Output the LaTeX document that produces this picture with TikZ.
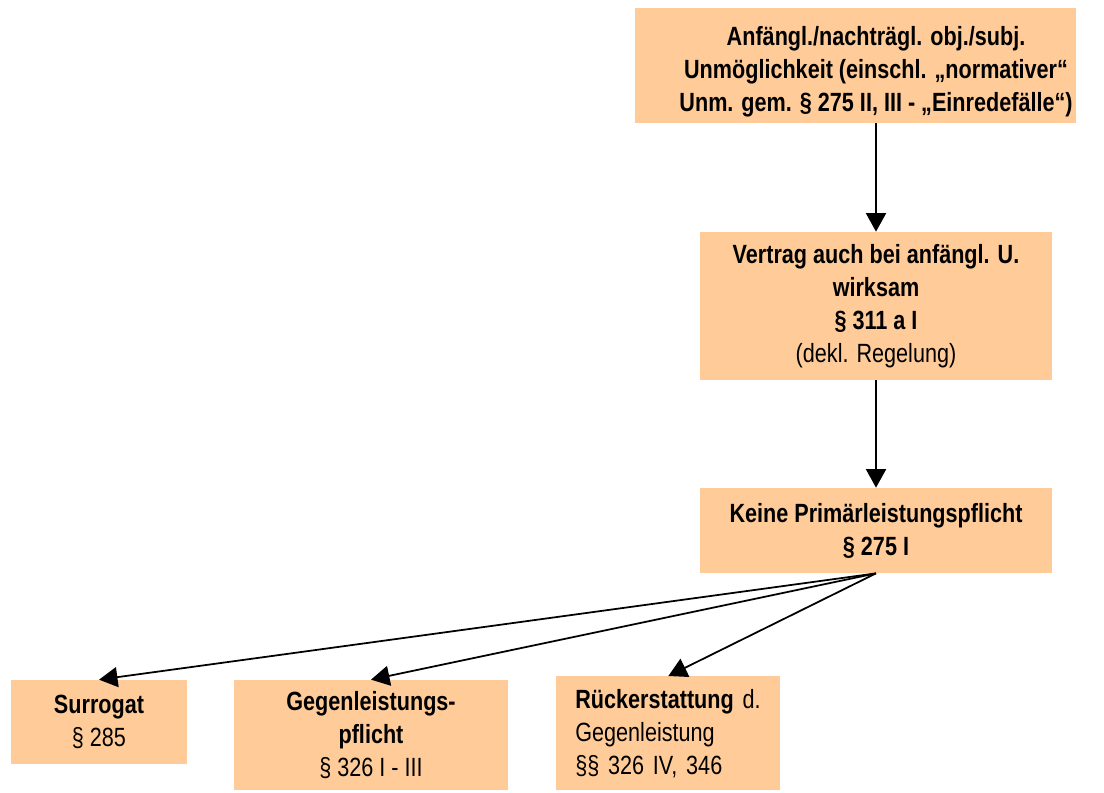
\documentclass[tikz,border=0pt]{standalone}
\usepackage{fontspec}
\setmainfont{Liberation Sans}[FakeStretch=0.82]
\usepackage{tikz}
\usetikzlibrary{positioning, arrows.meta}
\definecolor{peach}{HTML}{FFCC99}

\begin{document}
\begin{tikzpicture}[x=0.02cm, y=-0.02cm,
    font=\fontsize{15}{18.8}\selectfont,
    box/.style={fill=peach, inner sep=0pt, align=center},
    arr/.style={-{Triangle[length=0.37cm, width=0.40cm]}, line width=1pt}]
    \useasboundingbox (0,0) rectangle (1104,792);
    % text of the top box sits right of and below the box centre
    \node[fill=peach, inner sep=0pt, minimum width=441*0.02cm, minimum height=115*0.02cm] (unm) at (855.5,65.5)
        {\hspace*{0.82cm}\raisebox{-0.12cm}[\height][\depth]{\bfseries\begin{tabular}{@{}c@{}}
        Anfängl./nachträgl. obj./subj.\\ Unmöglichkeit (einschl. „normativer“\\ Unm. gem. § 275 II, III - „Einredefälle“)\end{tabular}}};
    \node[box, minimum width=352*0.02cm, minimum height=148*0.02cm] (vertrag) at (876,306)
        {\bfseries Vertrag auch bei anfängl. U.\\ \bfseries wirksam\\ \bfseries § 311 a I\\ (dekl. Regelung)};
    \node[box, minimum width=352*0.02cm, minimum height=85*0.02cm] (keine) at (876,530.5)
        {\bfseries Keine Primärleistungspflicht\\ \bfseries § 275 I};
    \node[box, minimum width=176*0.02cm, minimum height=84*0.02cm] (surrogat) at (99,722)
        {\bfseries Surrogat\\ § 285};
    \node[box, minimum width=274*0.02cm, minimum height=110*0.02cm] (gegen) at (371,735)
        {\bfseries Gegenleistungs-\\ \bfseries pflicht\\ § 326 I - III};
    \node[box, align=left, anchor=north west, minimum width=224*0.02cm, minimum height=114*0.02cm,
        inner xsep=19*0.02cm, text width=186*0.02cm] (rueck) at (556,676)
        {\textbf{Rückerstattung} d.\\ Gegenleistung\\ §§ 326 IV, 346};

    \draw[arr] (unm.south -| vertrag.north) -- (vertrag.north);
    \draw[arr] (vertrag.south) -- (keine.north);
    \draw[arr] (keine.south) -- (surrogat.north);
    \draw[arr] (keine.south) -- (gegen.north);
    \draw[arr] (keine.south) -- (rueck.north);
\end{tikzpicture}
\end{document}
